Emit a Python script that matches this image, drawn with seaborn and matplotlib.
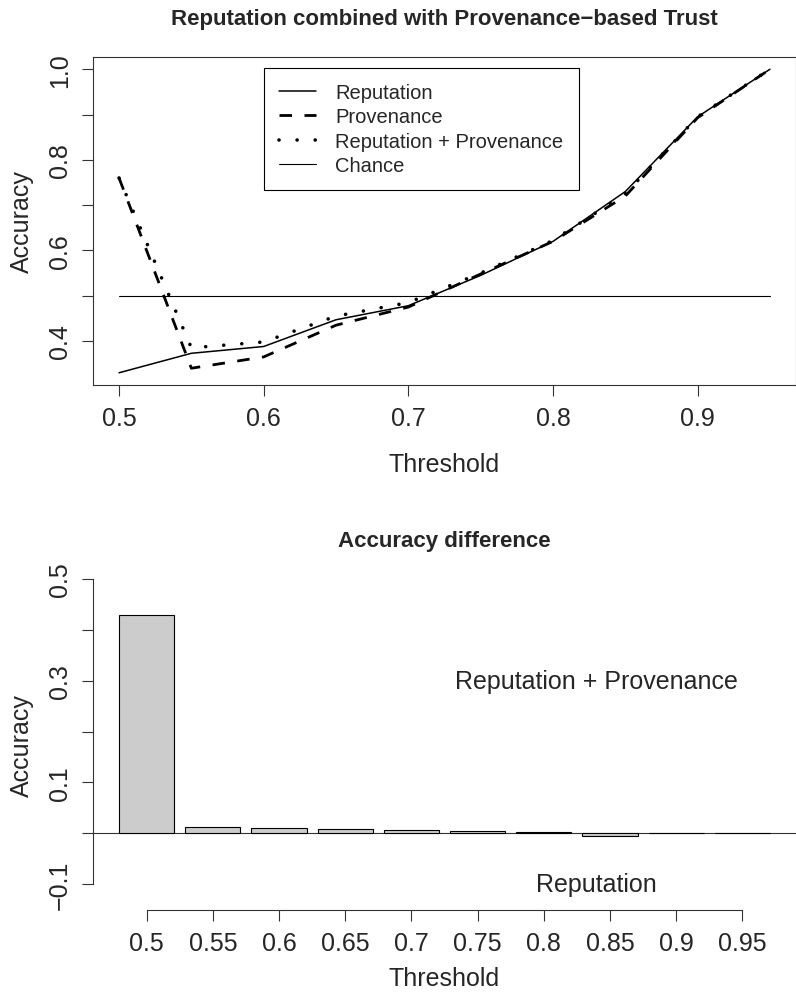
import matplotlib
matplotlib.use("Agg")
import matplotlib.pyplot as plt
import seaborn as sns

# values
thresholds = [0.5, 0.55, 0.6, 0.65, 0.7, 0.75, 0.8, 0.85, 0.9, 0.95]
threshold_labels = ["0.5", "0.55", "0.6", "0.65", "0.7", "0.75", "0.8", "0.85", "0.9", "0.95"]
reputation = [0.33, 0.373, 0.388, 0.447, 0.478, 0.545, 0.62, 0.73, 0.895, 1.0]
provenance = [0.76, 0.34, 0.365, 0.435, 0.475, 0.548, 0.62, 0.72, 0.893, 1.0]
combined = [0.76, 0.385, 0.398, 0.455, 0.485, 0.55, 0.622, 0.725, 0.895, 1.0]
chance = [0.5] * len(thresholds)
difference = [0.43, 0.013, 0.011, 0.008, 0.007, 0.005, 0.002, -0.005, 0.001, 0.001]

sns.set_style("ticks")
plt.rcParams['font.family'] = ['Liberation Sans', 'DejaVu Sans']
plt.rcParams['axes.edgecolor'] = '#333333'
plt.rcParams['axes.linewidth'] = 0.8

W, H = 796, 995
fig = plt.figure(figsize=(W / 100, H / 100), dpi=100)

def px_axes(left, top, right, bottom):
    return fig.add_axes([left / W, 1 - bottom / H, (right - left) / W, (bottom - top) / H])

tick_kw = dict(direction='out', length=8, width=0.8, pad=7, labelsize=18, color='#333333')

# ---- top panel: accuracy curves
ax1 = px_axes(93, 58, 796, 386)
sns.lineplot(x=thresholds, y=reputation, ax=ax1, color='black', lw=1.1, label='Reputation')
sns.lineplot(x=thresholds, y=provenance, ax=ax1, color='black', lw=2.0,
             linestyle=(0, (4.5, 4.5)), label='Provenance')
sns.lineplot(x=thresholds, y=combined, ax=ax1, color='black', lw=2.6,
             linestyle=(0, (0.01, 5.0)), dash_capstyle='round', label='Reputation + Provenance')
sns.lineplot(x=thresholds, y=chance, ax=ax1, color='black', lw=0.8, label='Chance')

ax1.set_xlim(0.482, 0.968)
ax1.set_ylim(0.303, 1.027)
ax1.set_xticks([0.5, 0.6, 0.7, 0.8, 0.9])
ax1.set_xticklabels(["0.5", "0.6", "0.7", "0.8", "0.9"])
ax1.set_yticks([0.4, 0.5, 0.6, 0.7, 0.8, 0.9, 1.0])
ax1.set_yticklabels(["0.4", "", "0.6", "", "0.8", "", "1.0"])
ax1.tick_params(**tick_kw)
ax1.tick_params(axis='y', labelrotation=90)
for lbl in ax1.get_yticklabels():
    lbl.set_va('center')
ax1.set_xlabel('Threshold', fontsize=18, labelpad=16)
ax1.set_ylabel('Accuracy', fontsize=18, labelpad=10)
ax1.set_title('Reputation combined with Provenance\u2212based Trust',
              fontsize=16, fontweight='bold', pad=24)
leg = ax1.legend(loc='upper left', bbox_to_anchor=(0.243, 0.966), borderaxespad=0,
                 fontsize=14.5, frameon=True, fancybox=False, edgecolor='black',
                 framealpha=1, handlelength=1.85, handletextpad=0.95,
                 borderpad=0.75, labelspacing=0.26)
leg.get_frame().set_linewidth(0.8)

# ---- bottom panel: accuracy difference
ax2 = px_axes(93, 580, 796, 911)
sns.barplot(x=threshold_labels, y=difference, ax=ax2, color='#cccccc',
            edgecolor='black', linewidth=0.8, width=1 / 1.2, saturation=1)
ax2.axhline(0, color='#333333', lw=0.8, zorder=0)
ax2.set_xlim(-0.81, 9.81)
ax2.set_ylim(-0.151, 0.5)
ax2.set_yticks([-0.1, 0.0, 0.1, 0.2, 0.3, 0.4, 0.5])
ax2.set_yticklabels(["\u22120.1", "", "0.1", "", "0.3", "", "0.5"])
ax2.tick_params(**tick_kw)
ax2.tick_params(axis='y', labelrotation=90)
for lbl in ax2.get_yticklabels():
    lbl.set_va('center')
sns.despine(ax=ax2)
ax2.spines['left'].set_bounds(-0.1, 0.5)
ax2.spines['bottom'].set_bounds(0, 9)
ax2.set_xlabel('Threshold', fontsize=18, labelpad=8)
ax2.set_ylabel('Accuracy', fontsize=18, labelpad=10)
ax2.set_title('Accuracy difference', fontsize=16, fontweight='bold', pad=24)
ax2.text(6.8, 0.3, 'Reputation + Provenance', fontsize=18, ha='center', va='center')
ax2.text(6.8, -0.1, 'Reputation', fontsize=18, ha='center', va='center')

fig.savefig('out.png', dpi=100)
